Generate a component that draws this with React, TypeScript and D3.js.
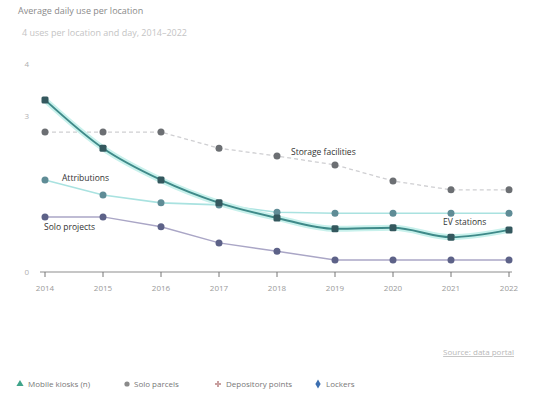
import React, { useEffect } from "react";
import * as d3 from "d3";

const years = ["2014", "2015", "2016", "2017", "2018", "2019", "2020", "2021", "2022"];
const evStations = [3.31, 2.38, 1.77, 1.33, 1.04, 0.83, 0.85, 0.67, 0.81];
const storage = [2.69, 2.69, 2.69, 2.38, 2.23, 2.06, 1.75, 1.58, 1.58];
const attributions = [1.77, 1.48, 1.33, 1.29, 1.15, 1.13, 1.13, 1.13, 1.13];
const soloProjects = [1.06, 1.06, 0.87, 0.56, 0.4, 0.23, 0.23, 0.23, 0.23];
const yTicks = [0, 3, 4];
const legendItems = ["Mobile kiosks (n)", "Solo parcels", "Depository points", "Lockers"];

const W = 537;
const H = 401;

export default function App() {
  useEffect(() => {
    document.body.style.margin = "0";
  }, []);

  const x = d3.scalePoint<string>().domain(years).range([45, 509]);
  const y = d3.scaleLinear().domain([0, 4]).range([272, 64]);
  const pts = (vals: number[]) => vals.map((v, i) => [x(years[i]) as number, y(v)] as [number, number]);
  const smooth = d3.line().curve(d3.curveMonotoneX);
  const straight = d3.line();

  const font = "'Open Sans', 'DejaVu Sans', sans-serif";

  return (
    <svg width={W} height={H} style={{ position: "absolute", left: 0, top: 0, background: "#fff" }} fontFamily={font}>
      <text x={18} y={14} fontSize={9} fill="#8a8a8a">Average daily use per location</text>
      <text x={22} y={36} fontSize={9} fill="#c4c4c4">4  uses per location and day, 2014–2022</text>

      {yTicks.map((t) => (
        <text key={t} x={29} y={y(t) + 3} fontSize={8} fill="#b0b0b0" textAnchor="end">{t}</text>
      ))}

      {/* x axis */}
      <line x1={40} x2={512} y1={272} y2={272} stroke="#8e8e8e" strokeWidth={1.2} />
      {years.map((yr) => (
        <g key={yr} transform={`translate(${x(yr)},272)`}>
          <line y1={0} y2={5} stroke="#777" strokeWidth={1} />
          <text y={19} fontSize={8} fill="#9a9a9a" textAnchor="middle">{yr}</text>
        </g>
      ))}

      {/* series lines */}
      <path d={straight(pts(storage)) as string} fill="none" stroke="#cfcfd2" strokeWidth={1.3} strokeDasharray="4 3" />
      <path d={straight(pts(soloProjects)) as string} fill="none" stroke="#aaa6c6" strokeWidth={1.5} />
      <path d={straight(pts(attributions)) as string} fill="none" stroke="#a9e2e0" strokeWidth={1.6} />
      <path d={smooth(pts(evStations)) as string} fill="none" stroke="#c8f1ec" strokeWidth={6} />
      <path d={smooth(pts(evStations)) as string} fill="none" stroke="#3f8a89" strokeWidth={2} />

      {/* markers */}
      {pts(storage).map(([cx, cy], i) => (
        <circle key={"s" + i} cx={cx} cy={cy} r={3.5} fill="#6c6f73" />
      ))}
      {pts(attributions).map(([cx, cy], i) => (
        <circle key={"a" + i} cx={cx} cy={cy} r={3.5} fill="#5f8c96" />
      ))}
      {pts(soloProjects).map(([cx, cy], i) => (
        <circle key={"p" + i} cx={cx} cy={cy} r={3.5} fill="#5d6288" />
      ))}
      {pts(evStations).map(([cx, cy], i) => (
        <rect key={"e" + i} x={cx - 3.5} y={cy - 3.5} width={7} height={7} rx={1.5} fill="#34585e" />
      ))}

      {/* series labels */}
      <text x={291} y={155} fontSize={8.5} fill="#333">Storage facilities</text>
      <text x={62} y={181} fontSize={8.5} fill="#333">Attributions</text>
      <text x={44} y={230} fontSize={8.5} fill="#333">Solo projects</text>
      <text x={443} y={225} fontSize={8.5} fill="#333">EV stations</text>

      {/* source */}
      <text x={514} y={355} fontSize={8} fill="#b8b8b8" textAnchor="end" textDecoration="underline">Source: data portal</text>

      {/* legend */}
      <g fontSize={8} fill="#777">
        <path d={d3.symbol(d3.symbolTriangle, 22)() as string} transform="translate(20,384)" fill="#3fa48a" />
        <text x={28} y={387}>{legendItems[0]}</text>
        <circle cx={127} cy={384} r={2.6} fill="#8a8a8a" />
        <text x={134} y={387}>{legendItems[1]}</text>
        <path d={d3.symbol(d3.symbolCross, 20)() as string} transform="translate(218,384)" fill="#c9a0a0" />
        <text x={226} y={387}>{legendItems[2]}</text>
        <path d={d3.symbol(d3.symbolDiamond, 24)() as string} transform="translate(318,384)" fill="#3c6fb0" />
        <text x={326} y={387}>{legendItems[3]}</text>
      </g>
    </svg>
  );
}
